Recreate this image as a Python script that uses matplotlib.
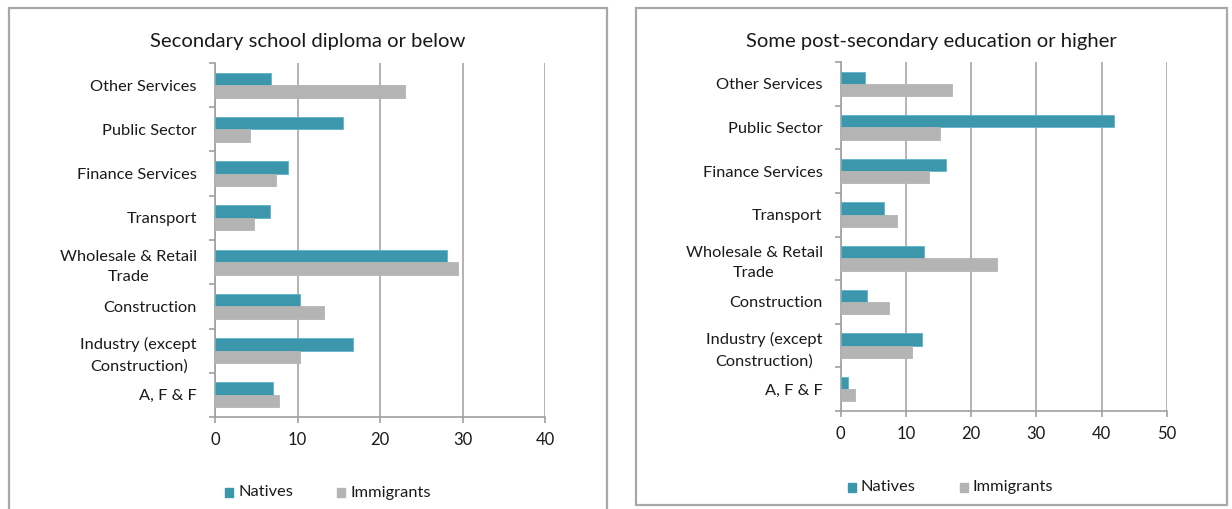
import matplotlib
matplotlib.use("Agg")
import matplotlib.pyplot as plt
from matplotlib.patches import Rectangle
import numpy as np

plt.rcParams['font.family'] = ['Lato', 'DejaVu Sans']

# Sectors, listed top to bottom
sectors = ["Other Services", "Public Sector", "Finance Services", "Transport",
           "Wholesale & Retail\nTrade", "Construction",
           "Industry (except\nConstruction)", "A, F & F"]

# Share of employment (%) by education level
low_natives = [6.75, 15.5, 8.9, 6.7, 28.1, 10.3, 16.7, 7.0]
low_immigrants = [23.0, 4.2, 7.35, 4.7, 29.4, 13.2, 10.3, 7.8]

high_natives = [3.7, 41.9, 16.2, 6.65, 12.8, 4.1, 12.4, 1.1]
high_immigrants = [17.1, 15.3, 13.5, 8.7, 24.0, 7.4, 10.9, 2.2]

titles = ["Secondary school diploma or below", "Some post-secondary education or higher"]
x_ticks = [[0, 10, 20, 30, 40], [0, 10, 20, 30, 40, 50]]

TEAL = "#3C97AD"
TEAL_EDGE = "#62B4C8"
GREY = "#B4B4B4"
AXIS_GREY = "#A0A0A0"
TEXT = "#1a1a1a"

W, H = 1232, 509
fig = plt.figure(figsize=(W / 100, H / 100), dpi=100)


def px_axes(x0, x1, ytop, ybot):
    return fig.add_axes([x0 / W, (H - ybot) / H, (x1 - x0) / W, (ybot - ytop) / H])


def panel_frame(x0, y0, x1, y1):
    fig.patches.append(Rectangle((x0 / W, (H - y1) / H), (x1 - x0) / W, (y1 - y0) / H,
                                 transform=fig.transFigure, fill=False,
                                 edgecolor="#A8A8A8", linewidth=1.6, zorder=0))


panel_frame(8.5, 8, 606.5, 515)
panel_frame(636, 8, 1226.5, 505)

panels = [
    dict(ax=px_axes(215, 545, 63, 417), nat=low_natives, imm=low_immigrants,
         title=titles[0], ticks=x_ticks[0], title_xy=(308, 42), leg_y=492.5,
         leg_x=(225, 337)),
    dict(ax=px_axes(840.7, 1166.7, 62, 411), nat=high_natives, imm=high_immigrants,
         title=titles[1], ticks=x_ticks[1], title_xy=(931, 41), leg_y=487,
         leg_x=(848, 960)),
]

y = np.arange(len(sectors))
bh = 0.28

for p in panels:
    ax = p["ax"]
    ax.barh(y - bh / 2, p["nat"], height=bh, color=TEAL, edgecolor=TEAL_EDGE,
            linewidth=0.6, zorder=3)
    ax.barh(y + bh / 2, p["imm"], height=bh, color=GREY, edgecolor=GREY,
            linewidth=0.6, zorder=3)
    ax.set_ylim(len(sectors) - 0.5, -0.5)
    ax.set_xlim(0, p["ticks"][-1])
    ax.set_xticks(p["ticks"])
    ax.set_yticks(y)
    ax.set_yticklabels(sectors, fontsize=11.8, color=TEXT, linespacing=1.6,
                       multialignment="center")
    ax.set_yticks(np.arange(-0.5, len(sectors)), minor=True)
    ax.tick_params(axis="y", which="major", length=0, pad=13)
    ax.tick_params(axis="y", which="minor", length=4, color=AXIS_GREY, width=1.2)
    ax.tick_params(axis="x", length=4, color=AXIS_GREY, width=1.2, labelsize=12,
                   labelcolor=TEXT, pad=7)
    ax.grid(axis="x", color="#A6A6A6", linewidth=1.2, zorder=0)
    for s in ("top", "right"):
        ax.spines[s].set_visible(False)
    for s in ("left", "bottom"):
        ax.spines[s].set_color(AXIS_GREY)
        ax.spines[s].set_linewidth(1.2)
    ax.set_axisbelow(True)

    tx, ty = p["title_xy"]
    fig.text(tx / W, (H - ty) / H, p["title"], ha="center", va="center",
             fontsize=14.6, color=TEXT)

    # legend drawn as square markers and labels along the bottom
    lx_nat, lx_imm = p["leg_x"]
    ly = (H - p["leg_y"]) / H
    for lx, col, lab in ((lx_nat, TEAL, "Natives"), (lx_imm, GREY, "Immigrants")):
        fig.patches.append(Rectangle((lx / W, ly - 4.5 / H), 8 / W, 9 / H,
                                     transform=fig.transFigure, color=col))
        fig.text((lx + 13) / W, ly, lab, ha="left", va="center", fontsize=11.8,
                 color=TEXT)

fig.savefig("out.png", dpi=100, facecolor="white")
